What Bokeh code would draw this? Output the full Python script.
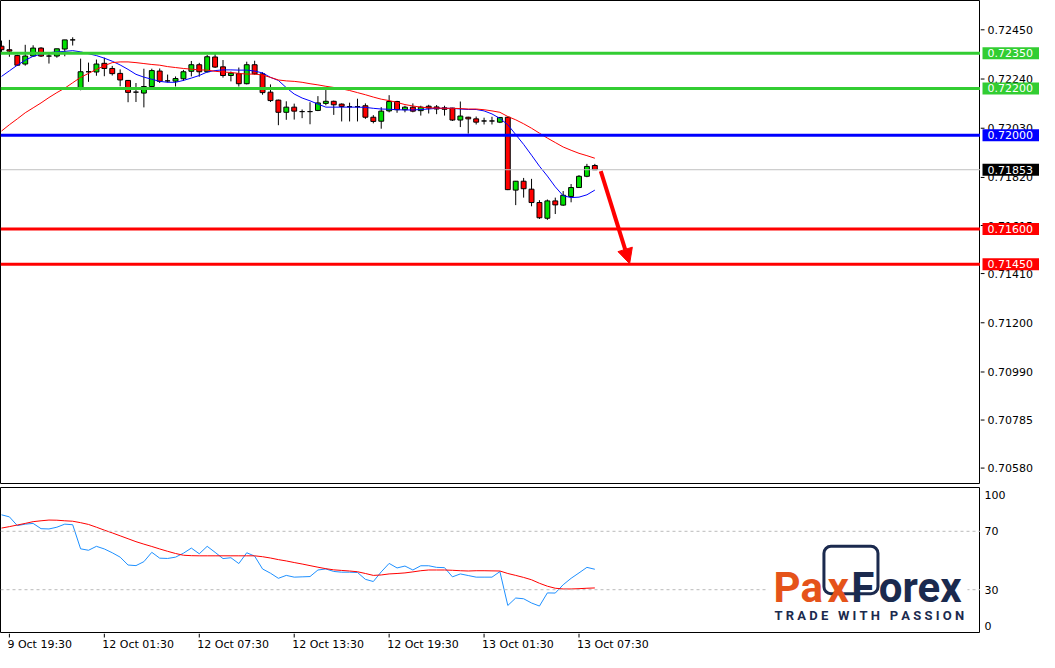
from bokeh.plotting import figure
from bokeh.models import (ColumnDataSource, Range1d, Span, Label, Arrow,
                          NormalHead, BoxAnnotation)
from bokeh.layouts import column, row
from bokeh.embed import file_html
from bokeh.resources import INLINE

# ---------------- data ----------------
bar = list(range(76))
open_ = [0.72380, 0.72365, 0.72340, 0.72304, 0.72338, 0.72372, 0.72338, 0.72338, 0.72368, 0.72407,
         0.72201, 0.72271, 0.72270, 0.72307, 0.72285, 0.72264, 0.72234, 0.72184, 0.72180, 0.72208,
         0.72274, 0.72232, 0.72231, 0.72241, 0.72273, 0.72301, 0.72271, 0.72334, 0.72292, 0.72255,
         0.72263, 0.72220, 0.72301, 0.72262, 0.72184, 0.72150, 0.72098, 0.72120, 0.72101, 0.72101,
         0.72106, 0.72136, 0.72145, 0.72133, 0.72122, 0.72122, 0.72126, 0.72077, 0.72060, 0.72104,
         0.72144, 0.72109, 0.72120, 0.72105, 0.72124, 0.72121, 0.72117, 0.72116, 0.72065, 0.72077,
         0.72070, 0.72061, 0.72061, 0.72056, 0.72077, 0.71766, 0.71804, 0.71770, 0.71713, 0.71646,
         0.71720, 0.71702, 0.71739, 0.71777, 0.71825, 0.71871]
high = [0.72404, 0.72407, 0.72344, 0.72386, 0.72384, 0.72376, 0.72355, 0.72369, 0.72407, 0.72418,
        0.72327, 0.72310, 0.72323, 0.72331, 0.72296, 0.72281, 0.72236, 0.72223, 0.72284, 0.72284,
        0.72285, 0.72259, 0.72251, 0.72279, 0.72317, 0.72309, 0.72343, 0.72347, 0.72321, 0.72272,
        0.72289, 0.72314, 0.72318, 0.72269, 0.72217, 0.72152, 0.72145, 0.72135, 0.72110, 0.72141,
        0.72167, 0.72193, 0.72148, 0.72136, 0.72139, 0.72156, 0.72136, 0.72086, 0.72120, 0.72171,
        0.72147, 0.72126, 0.72136, 0.72126, 0.72130, 0.72129, 0.72126, 0.72117, 0.72144, 0.72079,
        0.72080, 0.72075, 0.72079, 0.72077, 0.72080, 0.71805, 0.71818, 0.71814, 0.71723, 0.71726,
        0.71734, 0.71762, 0.71792, 0.71830, 0.71878, 0.71878]
low = [0.72355, 0.72335, 0.72297, 0.72297, 0.72335, 0.72334, 0.72306, 0.72331, 0.72337, 0.72383,
       0.72192, 0.72228, 0.72254, 0.72252, 0.72255, 0.72209, 0.72141, 0.72142, 0.72119, 0.72205,
       0.72223, 0.72225, 0.72208, 0.72232, 0.72251, 0.72250, 0.72268, 0.72287, 0.72246, 0.72230,
       0.72208, 0.72217, 0.72259, 0.72173, 0.72142, 0.72043, 0.72066, 0.72067, 0.72073, 0.72047,
       0.72103, 0.72128, 0.72087, 0.72059, 0.72059, 0.72059, 0.72070, 0.72051, 0.72028, 0.72098,
       0.72096, 0.72098, 0.72098, 0.72084, 0.72093, 0.72090, 0.72084, 0.72061, 0.72035, 0.72007,
       0.72046, 0.72046, 0.72046, 0.72052, 0.71766, 0.71702, 0.71734, 0.71697, 0.71643, 0.71639,
       0.71664, 0.71699, 0.71714, 0.71775, 0.71821, 0.71852]
close = [0.72365, 0.72359, 0.72299, 0.72338, 0.72372, 0.72338, 0.72338, 0.72369, 0.72407, 0.72407,
         0.72271, 0.72271, 0.72304, 0.72285, 0.72263, 0.72236, 0.72183, 0.72184, 0.72208, 0.72276,
         0.72230, 0.72232, 0.72242, 0.72271, 0.72301, 0.72271, 0.72335, 0.72291, 0.72255, 0.72265,
         0.72220, 0.72301, 0.72262, 0.72182, 0.72148, 0.72098, 0.72120, 0.72103, 0.72101, 0.72101,
         0.72138, 0.72145, 0.72130, 0.72123, 0.72122, 0.72122, 0.72077, 0.72059, 0.72103, 0.72144,
         0.72109, 0.72120, 0.72103, 0.72120, 0.72116, 0.72112, 0.72111, 0.72065, 0.72082, 0.72070,
         0.72056, 0.72061, 0.72061, 0.72076, 0.71768, 0.71804, 0.71772, 0.71713, 0.71648, 0.71720,
         0.71703, 0.71744, 0.71777, 0.71825, 0.71867, 0.71853]
ma_fast = [0.72251, 0.72275, 0.72299, 0.72320, 0.72337, 0.72346, 0.72352, 0.72356, 0.72358, 0.72361,
           0.72356, 0.72348, 0.72340, 0.72329, 0.72316, 0.72300, 0.72281, 0.72260, 0.72248, 0.72239,
           0.72230, 0.72226, 0.72226, 0.72234, 0.72244, 0.72255, 0.72270, 0.72276, 0.72279, 0.72279,
           0.72278, 0.72278, 0.72274, 0.72266, 0.72247, 0.72234, 0.72203, 0.72176, 0.72159, 0.72147,
           0.72133, 0.72120, 0.72120, 0.72120, 0.72120, 0.72120, 0.72119, 0.72115, 0.72112, 0.72111,
           0.72109, 0.72108, 0.72108, 0.72110, 0.72112, 0.72115, 0.72115, 0.72115, 0.72112, 0.72110,
           0.72110, 0.72104, 0.72091, 0.72072, 0.72045, 0.72003, 0.71961, 0.71915, 0.71868, 0.71826,
           0.71780, 0.71742, 0.71734, 0.71736, 0.71746, 0.71766]
ma_slow = [0.72018, 0.72045, 0.72070, 0.72096, 0.72117, 0.72138, 0.72161, 0.72182, 0.72201, 0.72224,
           0.72247, 0.72264, 0.72281, 0.72297, 0.72310, 0.72313, 0.72313, 0.72310, 0.72306, 0.72302,
           0.72299, 0.72293, 0.72289, 0.72285, 0.72282, 0.72279, 0.72278, 0.72273, 0.72270, 0.72268,
           0.72264, 0.72261, 0.72261, 0.72257, 0.72247, 0.72236, 0.72232, 0.72230, 0.72226, 0.72220,
           0.72215, 0.72209, 0.72204, 0.72198, 0.72191, 0.72182, 0.72173, 0.72163, 0.72154, 0.72148,
           0.72140, 0.72131, 0.72125, 0.72120, 0.72117, 0.72116, 0.72115, 0.72115, 0.72114, 0.72112,
           0.72112, 0.72109, 0.72104, 0.72098, 0.72080, 0.72066, 0.72049, 0.72030, 0.72009, 0.71988,
           0.71969, 0.71950, 0.71936, 0.71923, 0.71913, 0.71902]
rsi = [81.3, 79.9, 73.9, 74.9, 75.4, 71.8, 71.6, 72.8, 74.9, 74.5,
       58.0, 57.0, 59.7, 57.9, 55.3, 52.3, 46.9, 46.5, 49.2, 55.6,
       51.6, 51.4, 52.3, 55.0, 58.5, 54.6, 59.7, 55.6, 51.3, 51.9,
       47.9, 55.3, 53.0, 44.2, 41.3, 37.8, 39.8, 38.6, 38.8, 39.0,
       43.5, 44.2, 42.5, 42.0, 42.0, 41.8, 37.1, 35.6, 42.2, 48.0,
       44.9, 46.2, 43.5, 46.4, 46.4, 45.3, 45.1, 38.8, 40.8, 39.7,
       38.6, 38.6, 38.6, 42.4, 19.2, 24.3, 23.8, 20.9, 18.8, 27.8,
       27.7, 33.4, 37.8, 41.5, 45.3, 44.0]
rsi_ma = [72.2, 73.2, 74.3, 75.4, 76.6, 77.2, 77.7, 77.6, 77.2, 76.9,
          75.9, 74.7, 72.8, 70.8, 68.9, 66.9, 64.9, 62.9, 61.2, 59.6,
          57.9, 56.3, 54.8, 53.6, 53.3, 53.2, 53.2, 53.2, 53.2, 53.2,
          53.2, 53.2, 53.2, 52.6, 51.7, 50.6, 49.7, 48.6, 47.6, 46.5,
          45.4, 44.4, 43.6, 43.2, 42.8, 42.3, 41.1, 39.8, 40.1, 40.8,
          41.1, 41.5, 42.2, 43.0, 43.5, 43.5, 43.5, 43.3, 43.0, 42.8,
          43.0, 43.0, 42.9, 42.8, 41.1, 39.8, 38.4, 36.8, 34.4, 32.4,
          31.0, 30.5, 30.5, 30.7, 31.0, 31.2]

time_ticks = [1, 13, 25, 37, 49, 61, 73]
time_labels = ["9 Oct 19:30", "12 Oct 01:30", "12 Oct 07:30", "12 Oct 13:30",
               "12 Oct 19:30", "13 Oct 01:30", "13 Oct 07:30"]
price_ticks = [0.72450, 0.72240, 0.72030, 0.71820, 0.71615, 0.71410, 0.71200, 0.70990, 0.70785, 0.70580]
levels = [0.72350, 0.72200, 0.72000, 0.71600, 0.71450]
level_colors = ["#32CD32", "#32CD32", "#0000FF", "#FF0000", "#FF0000"]
last_price = 0.71853
rsi_tick_values = [5, 30, 70, 95]
rsi_tick_labels = ["0", "30", "70", "100"]
rsi_levels = [70, 30]

# ---------------- styling ----------------
FONT = "DejaVu Sans"
FW = 980          # chart frame width
SW = 59           # price-scale column width
MH = 484          # main frame height
IH = 146          # indicator frame height
GREEN = "#00E000"
ORANGE = "#E5531A"
NAVY = "#1B2A4E"


def bare(**kw):
    f = figure(output_backend="svg", toolbar_location=None, x_axis_location=None,
               y_axis_location=None, min_border_left=0, min_border_right=0,
               min_border_top=0, min_border_bottom=0, **kw)
    f.grid.visible = False
    f.outline_line_color = None
    return f


colors = [GREEN if c > o else ("#FF0000" if c < o else "black") for o, c in zip(open_, close)]
src = ColumnDataSource(dict(x=bar, o=open_, h=high, l=low, c=close,
                            top=[max(a, b) for a, b in zip(open_, close)],
                            bot=[min(a, b) for a, b in zip(open_, close)],
                            col=colors, maf=ma_fast, mas=ma_slow, rsi=rsi, rsim=rsi_ma))

xr = Range1d(-0.125, 123.75)
yr_main = Range1d(0.70510, 0.72575)
yr_ind = Range1d(0, 100)

# ---------------- main price panel ----------------
main = bare(frame_width=FW, frame_height=MH, x_range=xr, y_range=yr_main)
main.outline_line_color = "black"

for lvl, col in zip(levels, level_colors):
    main.add_layout(Span(location=lvl, dimension="width", line_color=col, line_width=3))
main.add_layout(Span(location=last_price, dimension="width", line_color="#C0C0C0", line_width=1))

main.segment("x", "h", "x", "l", source=src, line_color="black", line_width=1)
main.vbar(x="x", width=0.62, top="top", bottom="bot", source=src, fill_color="col",
          line_color="black", line_width=1)
main.line("x", "maf", source=src, line_color="#0000FF", line_width=1)
main.line("x", "mas", source=src, line_color="#FF0000", line_width=1)

main.add_layout(Arrow(end=NormalHead(size=15, fill_color="#FF0000", line_color="#FF0000"),
                      x_start=75.75, y_start=0.71847, x_end=79.4, y_end=0.71452,
                      line_color="#FF0000", line_width=4))

# price scale column (right of the main panel)
mscale = bare(frame_width=SW, frame_height=MH, x_range=Range1d(0, SW), y_range=yr_main)
mscale.segment(x0=0, y0=price_ticks, x1=4, y1=price_ticks, line_color="black", line_width=1)
for t in price_ticks:
    mscale.add_layout(Label(x=7, y=t, text=f"{t:.5f}", text_font=FONT, text_font_size="11px",
                            text_color="black", text_baseline="middle", text_align="left"))
for lvl, col in zip(levels + [last_price], level_colors + ["black"]):
    mscale.add_layout(Label(x=2, y=lvl, text=f"{lvl:.5f}",
                            text_color="white", text_font=FONT, text_font_size="11px",
                            text_baseline="middle", text_align="left",
                            background_fill_color=col,
                            padding=dict(left=5, right=7, top=2, bottom=2)))

# ---------------- indicator panel ----------------
ind = bare(frame_width=FW, frame_height=IH, x_range=xr, y_range=yr_ind)
ind.min_border_top = 3
ind.outline_line_color = "black"
for lv in rsi_levels:
    ind.add_layout(Span(location=lv, dimension="width", line_color="#BBBBBB",
                        line_width=1, line_dash="3 3"))
ind.line("x", "rsi", source=src, line_color="#1E90FF", line_width=1)
ind.line("x", "rsim", source=src, line_color="#FF0000", line_width=1)

# logo
ind.add_layout(BoxAnnotation(left=96.9, right=122.1, bottom=8.5, top=62.0,
                             fill_color="white", fill_alpha=1, line_alpha=0))
ind.add_layout(BoxAnnotation(left=103.96, right=110.79, bottom=27.3, top=59.7,
                             fill_color="white", fill_alpha=1, line_color=NAVY,
                             line_alpha=1, line_width=3, border_radius=7))
for txt, xx, col in [("Pa", 97.6, ORANGE), ("x", 104.4, ORANGE), ("F", 107.4, NAVY), ("orex", 110.9, NAVY)]:
    ind.add_layout(Label(x=xx, y=31.2, text=txt, text_font="Roboto", text_font_style="bold",
                         text_font_size="42px", text_color=col, text_baseline="alphabetic",
                         text_align="left"))
NB = "\u00a0"
tagline = (NB * 3).join(NB.join(w) for w in ["TRADE", "WITH", "PASSION"])
ind.add_layout(Label(x=97.7, y=12.5, text=tagline,
                     text_font="Roboto", text_font_style="bold", text_font_size="13px",
                     text_color=NAVY, text_baseline="alphabetic", text_align="left"))

iscale = bare(frame_width=SW, frame_height=IH, x_range=Range1d(0, SW), y_range=yr_ind)
iscale.min_border_top = 3
for v, t in zip(rsi_tick_values, rsi_tick_labels):
    iscale.add_layout(Label(x=4, y=v, text=t, text_font=FONT, text_font_size="11px",
                            text_color="black", text_baseline="middle", text_align="left"))

# ---------------- time axis strip ----------------
strip = bare(frame_width=FW, frame_height=19, x_range=xr, y_range=Range1d(0, 19))
strip.segment(x0=time_ticks, y0=19, x1=time_ticks, y1=15, line_color="black", line_width=1)
for t, lbl in zip(time_ticks, time_labels):
    strip.add_layout(Label(x=t, y=8, x_offset=-2, text=lbl,
                           text_font=FONT, text_font_size="11px", text_color="black",
                           text_baseline="middle", text_align="left"))

layout = column(row(main, mscale), row(ind, iscale), strip)
open("out.html", "w").write(file_html(layout, INLINE))
